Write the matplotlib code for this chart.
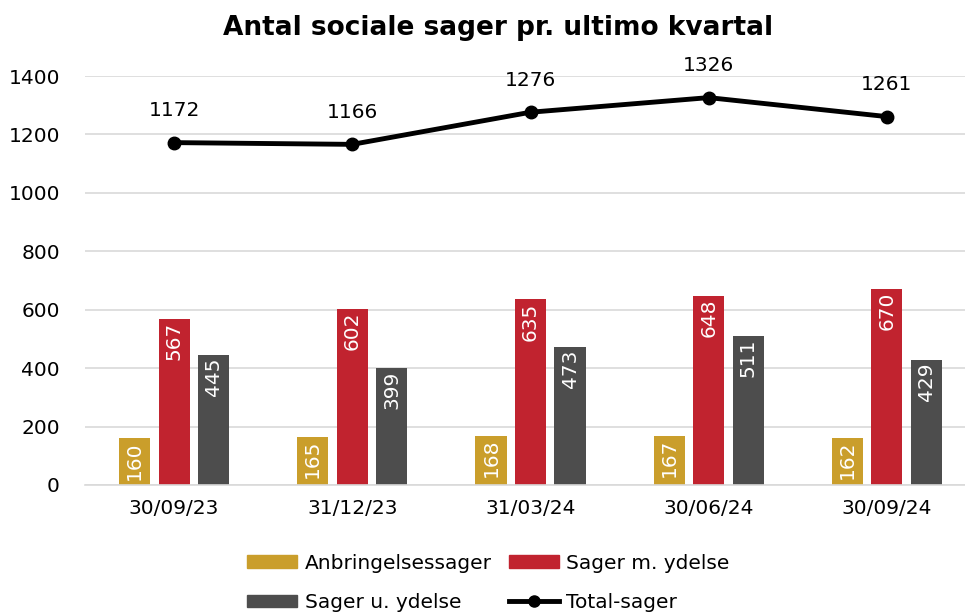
import matplotlib
matplotlib.use("Agg")
import matplotlib.pyplot as plt
import numpy as np
from matplotlib.lines import Line2D
from matplotlib.patches import Patch

categories = ["30/09/23", "31/12/23", "31/03/24", "30/06/24", "30/09/24"]
anbringelse = [160, 165, 168, 167, 162]
sager_m = [567, 602, 635, 648, 670]
sager_u = [445, 399, 473, 511, 429]
total = [1172, 1166, 1276, 1326, 1261]

c_gold = "#CA9E2B"
c_red = "#C1232F"
c_dark = "#4D4D4D"
fs = 14.5

plt.rcParams['font.family'] = ['DejaVu Sans']
fig = plt.figure(figsize=(9.65, 6.15), dpi=100)
ax = fig.add_axes([85/965, 1-485/615, 891/965, 409/615])

x = np.arange(len(categories))
w = 0.175
step = 0.222
series = [(anbringelse, c_gold, -step), (sager_m, c_red, 0), (sager_u, c_dark, step)]
for vals, col, off in series:
    bars = ax.bar(x + off, vals, width=w, color=col, zorder=2)
    for b, v in zip(bars, vals):
        ax.annotate(str(v), (b.get_x() + b.get_width()/2, v), xytext=(0, -2),
                    textcoords='offset points', rotation=90,
                    ha='center', va='top', color='white', fontsize=fs, zorder=3)

ax.plot(x, total, color='black', lw=3.5, marker='o', ms=9, zorder=4)
for xi, v in zip(x, total):
    ax.annotate(str(v), (xi, v), xytext=(0, 16), textcoords='offset points',
                ha='center', va='bottom', fontsize=fs)

ax.set_xlim(-0.5, len(categories) - 0.5)
ax.set_ylim(0, 1400)
ax.set_yticks(range(0, 1401, 200))
ax.set_xticks(x)
ax.set_xticklabels(categories)
ax.tick_params(axis='both', length=0, labelsize=fs)
ax.tick_params(axis='x', pad=10)
ax.tick_params(axis='y', pad=18)
ax.grid(axis='y', color='#D9D9D9', lw=1.2, zorder=0)
ax.set_axisbelow(True)
for s in ['top', 'right', 'left']:
    ax.spines[s].set_visible(False)
ax.spines['bottom'].set_color('#D9D9D9')
ax.spines['bottom'].set_linewidth(1.2)

fig.text(498/965, 1-28/615, "Antal sociale sager pr. ultimo kvartal", ha='center', va='center',
         fontsize=19, fontweight='bold')

# legend filled column-wise: order so rows read A, M / U, T
handles = [Patch(color=c_gold), Patch(color=c_dark), Patch(color=c_red),
           Line2D([0], [0], color='black', lw=3.5, marker='o', ms=8)]
labels = ["Anbringelsessager", "Sager u. ydelse", "Sager m. ydelse", "Total-sager"]
fig.legend(handles, labels, ncol=2, loc='center', bbox_to_anchor=(0.506, 1-583/615),
           frameon=False, fontsize=fs, handlelength=2.5, handleheight=0.6,
           columnspacing=0.85, handletextpad=0.35, labelspacing=1.0)

fig.savefig("out.png", dpi=100)
